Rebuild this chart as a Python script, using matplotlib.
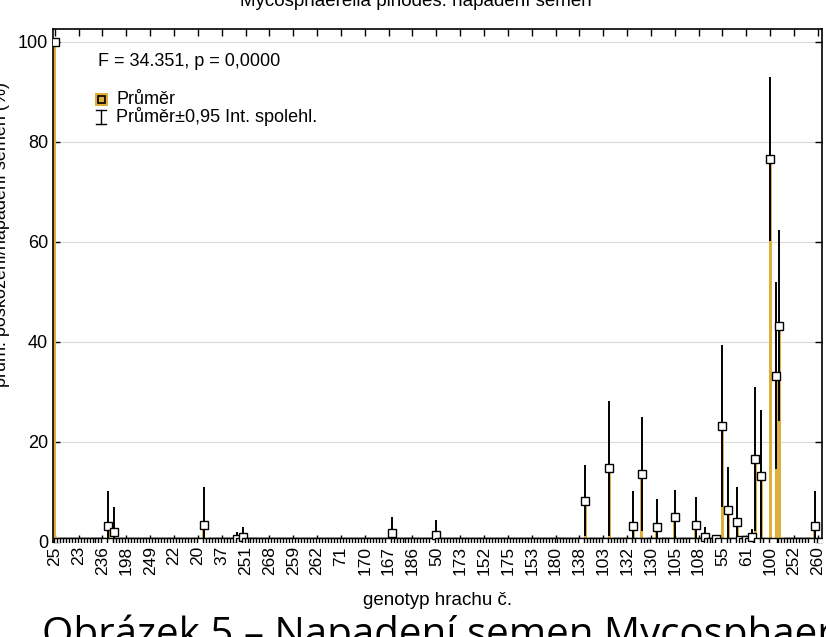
import matplotlib
matplotlib.use("Agg")
import matplotlib.pyplot as plt
from matplotlib.patches import Rectangle
from matplotlib.lines import Line2D
import numpy as np

# ---- data ----
n_genotypes = 258
tick_labels = ['25', '23', '236', '198', '249', '22', '20', '37', '251', '268', '259',
               '262', '71', '170', '167', '186', '50', '173', '152', '175', '153', '180',
               '138', '103', '132', '130', '105', '108', '55', '61', '100', '252', '260']
label_step = 8
# categories (position in sorted order) with non-zero mean
nz_index = [0, 18, 20, 50, 61, 63, 113, 128, 178, 186, 194, 197, 202, 208, 215, 218,
            222, 224, 226, 229, 230, 232, 234, 235, 237, 240, 242, 243, 255]
nz_mean = [100.0, 3.3, 2.0, 3.5, 0.7, 1.0, 1.8, 1.5, 8.3, 14.8, 3.3, 13.6, 3.1, 5.1,
           3.4, 1.0, 0.6, 23.3, 6.4, 4.0, 0.5, 0.5, 1.0, 16.6, 13.3, 76.6, 33.3, 43.3, 3.3]
nz_ci = [0.0, 7.0, 5.0, 7.5, 1.3, 2.0, 3.2, 3.0, 7.1, 13.5, 6.9, 11.4, 5.5, 5.3,
         5.7, 2.1, 0.9, 16.2, 8.6, 7.0, 0.8, 0.8, 1.6, 14.4, 13.1, 16.4, 18.7, 19.0, 6.9]

title = "Mycosphaerella pinodes: napadení semen"
xlabel = "genotyp hrachu č."
ylabel = "prům. poškození/napadení semen (%)"
stat_text = "F = 34.351, p = 0,0000"
leg_mean = "Průměr"
leg_ci = "Průměr±0,95 Int. spolehl."
caption = "Obrázek 5 – Napadení semen Mycosphaerella pinodes"

gold = "#DDB03C"

means = np.zeros(n_genotypes)
ci = np.zeros(n_genotypes)
means[nz_index] = nz_mean
ci[nz_index] = nz_ci
x = np.arange(n_genotypes)

plt.rcParams['font.family'] = ['Liberation Sans', 'DejaVu Sans']
fig = plt.figure(figsize=(8.26, 6.37), dpi=100)
W, H = 826, 637
L, R, T, B = 53, 822, 29, 542
ax = fig.add_axes([L / W, 1 - B / H, (R - L) / W, (B - T) / H])

ax.set_xlim(-0.6, n_genotypes - 0.6)
ax.set_ylim(0, 102.6)

for yv in [20, 40, 60, 80, 100]:
    ax.axhline(yv, color="#DADADA", lw=0.8, zorder=0)

ax.bar(x, means, width=1.0, color=gold, edgecolor="none", zorder=2)
mask = ci > 0
ax.vlines(x[mask], means[mask] - ci[mask], means[mask] + ci[mask],
          color="black", lw=1.4, zorder=3)
ax.plot(x, means, linestyle="none", marker="s", markersize=6.2,
        markerfacecolor="white", markeredgecolor="black", markeredgewidth=1.0,
        zorder=4, clip_on=True)

ticks = np.arange(len(tick_labels)) * label_step
ax.set_xticks(ticks)
ax.set_xticklabels(tick_labels, rotation=90, fontsize=12.5)
ax.set_yticks([0, 20, 40, 60, 80, 100])
ax.tick_params(axis="y", labelsize=13, direction="in", length=5, right=True, width=1.0)
ax.tick_params(axis="x", direction="in", length=5, top=True, width=1.0, pad=3)
for s in ax.spines.values():
    s.set_linewidth(1.2)

ax.set_xlabel(xlabel, fontsize=13.5)
ax.xaxis.set_label_coords(0.5, -0.097)
ax.set_ylabel(ylabel, fontsize=13)
ax.yaxis.set_label_coords(-0.056, 0.6)

# stats text and legend (drawn manually in axes fraction)
ax.text(0.0585, 0.936, stat_text, transform=ax.transAxes, fontsize=13, va="center", ha="left")
ax.add_patch(Rectangle((0.0540, 0.8505), 0.0169, 0.0253, transform=ax.transAxes,
                       facecolor=gold, edgecolor="none", clip_on=False))
ax.add_patch(Rectangle((0.0580, 0.8565), 0.0090, 0.0135, transform=ax.transAxes,
                       facecolor=gold, edgecolor="black", lw=1.2, clip_on=False))
ax.text(0.0820, 0.8635, leg_mean, transform=ax.transAxes, fontsize=13, va="center", ha="left")
ax.add_line(Line2D([0.0624, 0.0624], [0.815, 0.842], transform=ax.transAxes, color="black", lw=1.0))
ax.add_line(Line2D([0.0564, 0.0684], [0.842, 0.842], transform=ax.transAxes, color="black", lw=1.0))
ax.add_line(Line2D([0.0564, 0.0684], [0.815, 0.815], transform=ax.transAxes, color="black", lw=1.0))
ax.text(0.0820, 0.8285, leg_ci, transform=ax.transAxes, fontsize=13, va="center", ha="left")

fig.text(416 / W, 1 - 5.5 / H, title, fontsize=13.5, ha="center", va="baseline")
fig.text(42 / W, 1 - 646 / H, caption, fontsize=29, ha="left", va="baseline",
         family=["Open Sans", "DejaVu Sans"])

fig.savefig("out.png", dpi=100)
